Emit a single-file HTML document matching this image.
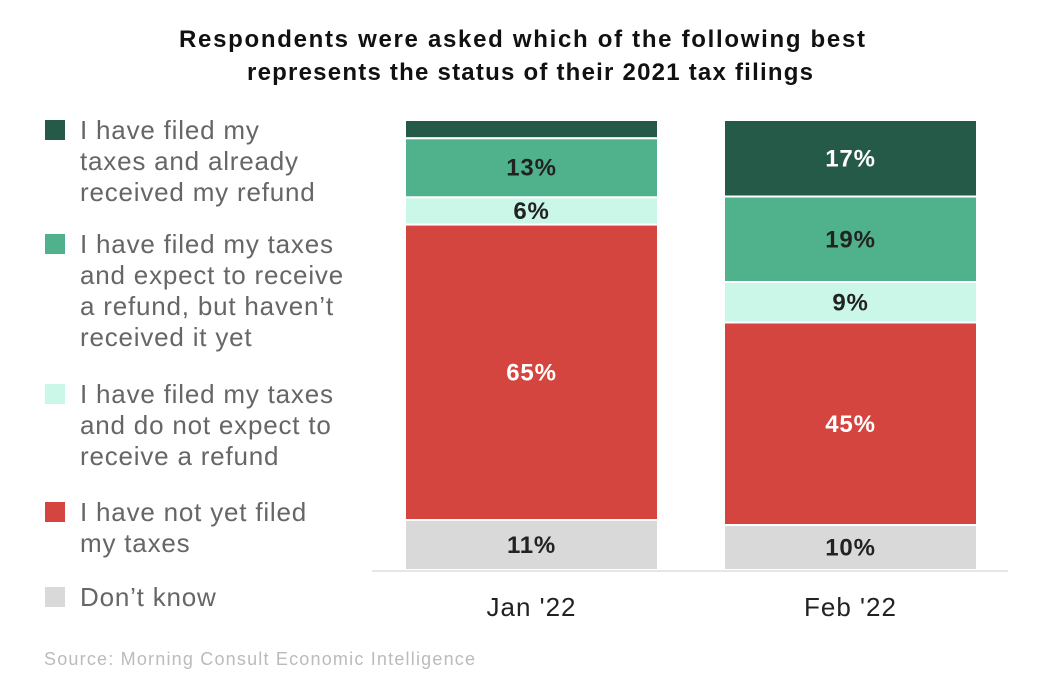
<!DOCTYPE html>
<html><head><meta charset="utf-8"><style>
body{margin:0;background:#fff;font-family:"Liberation Sans",sans-serif;}
</style></head><body>
<svg width="1038" height="690" xmlns="http://www.w3.org/2000/svg">
<text x="522" y="47" text-anchor="middle" font-size="24" font-weight="bold" fill="#111" textLength="686" lengthAdjust="spacing">Respondents were asked which of the following best</text>
<text x="530" y="80" text-anchor="middle" font-size="24" font-weight="bold" fill="#111" textLength="566" lengthAdjust="spacing">represents the status of their 2021 tax filings</text>
<g id="legend"></g>
<g id="bars"></g>
<line x1="372" y1="571" x2="1008" y2="571" stroke="#ddd" stroke-width="1.5"/>
<text x="44" y="665" font-size="18" fill="#bbb" letter-spacing="1.2">Source: Morning Consult Economic Intelligence</text>
</svg>
<script>
const categories=["Jan '22","Feb '22"];
const seriesNames=["Don’t know","I have not yet filed my taxes","I have filed my taxes and do not expect to receive a refund","I have filed my taxes and expect to receive a refund, but haven’t received it yet","I have filed my taxes and already received my refund"];
const dontKnow=[11,10];
const notFiled=[65,45];
const noRefund=[6,9];
const awaitingRefund=[13,19];
const receivedRefund=[4,17];
const colors=["#d9d9d9","#d5453f","#cbf7e9","#4fb28c","#245a47"];
const labelColors=["#222","#fff","#222","#222","#fff"];
const series=[dontKnow,notFiled,noRefund,awaitingRefund,receivedRefund];
const NS="http://www.w3.org/2000/svg";
const base=570, pxPer=4.5;
const y=v=>base-v*pxPer;
const xLeft=[405,724], bw=253;
const g=document.getElementById('bars');
categories.forEach((c,i)=>{
  let cum=0;
  const total=series.reduce((a,s)=>a+s[i],0);
  const sc=100/total;
  series.forEach((s,k)=>{
    const v=s[i]; const y0=y(cum*sc), y1=y((cum+v)*sc); cum+=v;
    const r=document.createElementNS(NS,'rect');
    r.setAttribute('x',xLeft[i]);r.setAttribute('y',y1);r.setAttribute('width',bw);r.setAttribute('height',y0-y1);
    r.setAttribute('fill',colors[k]);r.setAttribute('stroke','#fff');r.setAttribute('stroke-width','2');
    
    
    g.appendChild(r);
    if(v>=5){
      const t=document.createElementNS(NS,'text');
      t.setAttribute('x',xLeft[i]+bw/2);t.setAttribute('y',(y0+y1)/2+8);t.setAttribute('text-anchor','middle');
      t.setAttribute('font-size','24');t.setAttribute('font-weight','bold');t.setAttribute('fill',labelColors[k]);
      t.setAttribute('letter-spacing','0.8');
      t.textContent=v+'%';
      
      
      g.appendChild(t);
    }
  });
  const t=document.createElementNS(NS,'text');
  t.setAttribute('x',xLeft[i]+bw/2);t.setAttribute('y',616);t.setAttribute('text-anchor','middle');
  t.setAttribute('font-size','26');t.setAttribute('fill','#222');t.setAttribute('letter-spacing','1');t.textContent=c;
  
  
  g.appendChild(t);
});
const legendLines=[[["I have filed my","taxes and already","received my refund"],120,4],
[["I have filed my taxes","and expect to receive","a refund, but haven’t","received it yet"],234,3],
[["I have filed my taxes","and do not expect to","receive a refund"],384,2],
[["I have not yet filed","my taxes"],502,1],
[["Don’t know"],587,0]];
const lg=document.getElementById('legend');
legendLines.forEach(([lines,top,k])=>{
  const r=document.createElementNS(NS,'rect');
  r.setAttribute('x',45);r.setAttribute('y',top);r.setAttribute('width',20);r.setAttribute('height',20);r.setAttribute('fill',colors[k]);
  
  
  lg.appendChild(r);
  lines.forEach((l,j)=>{
    const t=document.createElementNS(NS,'text');
    t.setAttribute('x',80);t.setAttribute('y',top+19+j*31);t.setAttribute('font-size','26');t.setAttribute('fill','#666');
    t.setAttribute('letter-spacing','0.8');
    t.textContent=l;
    
    
    lg.appendChild(t);
  });
});
</script>
</body></html>
